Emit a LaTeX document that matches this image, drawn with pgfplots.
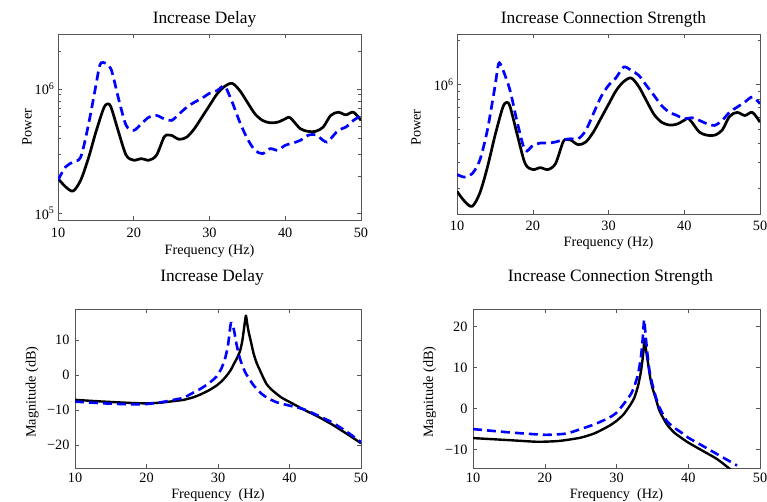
\documentclass[border=0pt]{standalone}
\usepackage{fontspec}
\setmainfont{Liberation Serif}
\usepackage{pgfplots}
\pgfplotsset{compat=1.18}

\definecolor{mblue}{RGB}{0,0,255}
\definecolor{frame}{RGB}{85,85,85}

\pgfplotsset{
  mbase/.style={
    scale only axis, anchor=south west,
    xmin=10, xmax=50,
    xtick={10,20,30,40,50}, xticklabels={10,20,30,40,50},
    tick align=inside, major tick length=4bp, minor tick length=2.5bp,
    axis line style={frame, line width=0.6bp},
    every tick/.style={frame, line width=0.5bp},
    tick label style={font=\fontsize{14.3}{15}\selectfont, text=black},
    label style={font=\fontsize{14.3}{16}\selectfont},
    title style={font=\fontsize{17.4}{19}\selectfont, at={(0.5,1)}, anchor=base},
    xlabel style={at={(axis description cs:0.5,0)}, anchor=base},
    ylabel style={anchor=center},
  },
  blk/.style={black, line width=2.7bp, smooth, tension=0.5, line join=round},
  bld/.style={mblue, line width=2.7bp, dash pattern=on 9bp off 5bp, smooth, tension=0.5},
  blk2/.style={black, line width=2.4bp, smooth, tension=0.35, line join=round},
  bld2/.style={mblue, line width=2.6bp, dash pattern=on 9bp off 5bp, smooth, tension=0.35},
}

\begin{document}
\begin{tikzpicture}
\useasboundingbox (0,0) rectangle (767bp,502bp);

% ---------------- Panel 1 ----------------
\begin{axis}[mbase, at={(58bp,282bp)}, width=303bp, height=186bp,
  ymode=log, ymin=8.83e4, ymax=2.77e6,
  ytick={1e5,1e6}, yticklabels={10\textsuperscript{5},10\textsuperscript{6}},
  minor ytick={2e5,3e5,4e5,5e5,6e5,7e5,8e5,9e5,2e6},
  title={Increase Delay}, title style={yshift=5bp, xshift=-5bp},
  xlabel={Frequency (Hz)}, xlabel style={yshift=-35bp},
  ylabel={Power}, ylabel style={at={(axis description cs:-0.102,0.5)}},
  xticklabel style={yshift=-5bp}]
\addplot[blk] coordinates {
(10,1.905e5)(11,1.633e5)(12,1.510e5)(13,1.849e5)(14,2.754e5)(15,4.498e5)(16,6.918e5)(16.5,7.586e5)(17,7.129e5)(18,4.498e5)(19,2.931e5)(20,2.673e5)(21,2.754e5)(22,2.673e5)(23,2.931e5)(24,4.102e5)(24.5,4.266e5)(25,4.236e5)(26,3.936e5)(27,4.102e5)(28,4.786e5)(29,5.929e5)(30,7.362e5)(31,9.120e5)(32,1.050e6)(33,1.109e6)(34,9.705e5)(35,7.816e5)(36,6.310e5)(37,5.585e5)(38,5.346e5)(39,5.408e5)(40,5.754e5)(40.5,5.929e5)(41,5.585e5)(42,4.786e5)(43,4.560e5)(44,4.560e5)(45,4.932e5)(46,6.124e5)(47,6.501e5)(48,6.194e5)(49,6.501e5)(50,5.585e5)
};
\addplot[bld] coordinates {
(10,1.849e5)(11,2.360e5)(12,2.588e5)(13,2.838e5)(14,5.093e5)(15,1.064e6)(15.5,1.538e6)(16,1.633e6)(17,1.445e6)(18,8.318e5)(19,5.093e5)(20,4.645e5)(21,5.248e5)(22,5.929e5)(23,6.124e5)(24,5.754e5)(25,5.585e5)(26,6.310e5)(27,7.129e5)(28,7.816e5)(29,8.414e5)(30,9.226e5)(31,9.705e5)(32,1.050e6)(33,7.816e5)(34,5.408e5)(35,3.981e5)(36,3.214e5)(37,3.020e5)(38,3.311e5)(39,3.214e5)(40,3.524e5)(41,3.673e5)(42,3.864e5)(43,4.236e5)(44,4.285e5)(45,3.864e5)(45.5,3.741e5)(46,3.981e5)(47,4.645e5)(48,4.932e5)(49,5.585e5)(50,6.124e5)
};
\end{axis}

% ---------------- Panel 2 ----------------
\begin{axis}[mbase, at={(457bp,288bp)}, width=303bp, height=180bp,
  ymode=log, ymin=1.34e5, ymax=2.2e6,
  ytick={1e6}, yticklabels={10\textsuperscript{6}},
  minor ytick={2e5,3e5,4e5,5e5,6e5,7e5,8e5,9e5,2e6},
  title={Increase Connection Strength}, title style={yshift=5bp, xshift=-5bp},
  xlabel={Frequency (Hz)}, xlabel style={yshift=-33bp},
  ylabel={Power}, ylabel style={at={(axis description cs:-0.135,0.48)}},
  xticklabel style={yshift=-4bp}]
\addplot[blk] coordinates {
(10,1.905e5)(11,1.633e5)(12,1.510e5)(13,1.849e5)(14,2.754e5)(15,4.498e5)(16,6.918e5)(16.5,7.586e5)(17,7.129e5)(18,4.498e5)(19,2.931e5)(20,2.673e5)(21,2.754e5)(22,2.673e5)(23,2.931e5)(24,4.102e5)(24.5,4.266e5)(25,4.236e5)(26,3.936e5)(27,4.102e5)(28,4.786e5)(29,5.929e5)(30,7.362e5)(31,9.120e5)(32,1.050e6)(33,1.109e6)(34,9.705e5)(35,7.816e5)(36,6.310e5)(37,5.585e5)(38,5.346e5)(39,5.408e5)(40,5.754e5)(40.5,5.929e5)(41,5.585e5)(42,4.786e5)(43,4.560e5)(44,4.560e5)(45,4.932e5)(46,6.124e5)(47,6.501e5)(48,6.194e5)(49,6.501e5)(50,5.585e5)
};
\addplot[bld] coordinates {
(10,2.477e5)(11,2.377e5)(12,2.506e5)(13,3.083e5)(14,4.909e5)(15,9.638e5)(15.5,1.387e6)(16,1.282e6)(17,9.162e5)(18,5.445e5)(19,3.597e5)(20,3.890e5)(21,4.036e5)(22,4.036e5)(23,4.102e5)(24,4.246e5)(25,4.315e5)(26,4.315e5)(27,4.909e5)(28,6.368e5)(29,8.260e5)(30,9.886e5)(31,1.114e6)(32,1.315e6)(33,1.250e6)(34,1.156e6)(35,9.886e5)(36,8.472e5)(37,7.244e5)(38,6.531e5)(39,6.209e5)(40,5.888e5)(41,5.984e5)(42,5.741e5)(43,5.445e5)(44,5.309e5)(45,5.741e5)(46,6.531e5)(47,7.063e5)(48,7.638e5)(49,8.260e5)(50,7.447e5)
};
\end{axis}

% ---------------- Panel 3 ----------------
\begin{axis}[mbase, at={(75bp,34bp)}, width=286bp, height=159bp,
  ymin=-26.6, ymax=18.9,
  ytick={-20,-10,0,10}, yticklabels={−20,−10,0,10},
  title={Increase Delay}, title style={yshift=22bp, xshift=-6bp},
  xlabel={Frequency\ \ (Hz)}, xlabel style={yshift=-30bp},
  ylabel={Magnitude (dB)}, ylabel style={at={(axis description cs:-0.15,0.478)}},
  xticklabel style={yshift=-1.5bp}, yticklabel style={xshift=-2bp}]
\addplot[blk2] coordinates {
(10,-7.1)(14,-7.6)(18,-8.0)(20,-8.1)(22,-7.9)(24,-7.4)(25.2,-7.1)(26.5,-6.4)(27.5,-5.6)(28.7,-4.4)(29.8,-3.0)(30.6,-1.6)(31.2,-0.2)(31.8,1.5)(32.2,3.1)(32.7,5.0)(33.1,7.0)(33.4,9.8)(33.65,13.5)(33.9,17.0)(34.1,14.5)(34.3,12.2)(34.5,10.5)(34.75,8.2)(35.0,6.0)(35.4,3.5)(35.9,1.2)(36.3,-0.6)(36.8,-2.6)(37.4,-4.0)(38.2,-5.4)(39.0,-6.6)(40.1,-7.8)(42,-9.9)(44,-11.9)(46,-14.2)(48,-16.8)(50,-19.5)
};
\addplot[bld2] coordinates {
(10,-7.6)(14,-8.1)(18,-8.4)(20,-8.3)(22,-7.8)(24,-7.0)(25.2,-6.5)(26.3,-5.3)(27.5,-4.0)(28.7,-2.4)(29.8,-0.4)(30.5,2.0)(31.0,4.8)(31.4,8.5)(31.8,14.8)(32.2,13.2)(32.6,8.7)(33.1,4.5)(33.8,0.8)(34.5,-1.5)(35.0,-3.0)(36,-5.2)(36.8,-6.4)(38.2,-7.8)(40.1,-8.8)(42,-9.8)(44,-11.6)(46,-13.6)(48,-16.2)(50,-19.2)
};
\end{axis}

% ---------------- Panel 4 ----------------
\begin{axis}[mbase, at={(473bp,34bp)}, width=287bp, height=159bp,
  ymin=-14.5, ymax=24.3,
  ytick={-10,0,10,20}, yticklabels={−10,0,10,20},
  title={Increase Connection Strength}, title style={yshift=22bp, xshift=-6bp},
  xlabel={Frequency\ \ (Hz)}, xlabel style={yshift=-30bp},
  ylabel={Magnitude (dB)}, ylabel style={at={(axis description cs:-0.151,0.478)}},
  xticklabel style={yshift=-1.5bp}, yticklabel style={xshift=-2bp}]
\addplot[blk2] coordinates {
(10,-7.2)(15,-7.7)(19,-8.1)(22,-7.9)(25,-7.1)(27,-6.0)(29,-4.2)(30,-3.0)(31,-1.4)(32,1.1)(32.5,2.7)(33,5.5)(33.4,9.0)(33.7,13.0)(33.9,16.9)(34.1,14.5)(34.4,11.0)(34.7,7.5)(35,5.1)(35.5,2.3)(36,-0.6)(37,-3.8)(38,-5.8)(39,-7.1)(40,-8.3)(42,-10.3)(44,-12.3)(46,-15.0)
};
\addplot[bld2] coordinates {
(10,-5.0)(15,-5.8)(20,-6.4)(23,-6.1)(25,-5.0)(27,-3.8)(29,-2.2)(30,-1.0)(31,1.1)(32,3.5)(32.5,5.5)(33,8.4)(33.4,12.5)(33.65,17.0)(33.85,21.7)(34.05,18.0)(34.3,13.5)(34.6,9.2)(35,5.9)(35.5,2.7)(36,0.2)(37,-3.0)(38,-4.6)(39,-5.8)(40,-7.1)(42,-9.1)(44,-11.1)(46,-13.1)(46.8,-13.9)
};
\end{axis}
\end{tikzpicture}
\end{document}
